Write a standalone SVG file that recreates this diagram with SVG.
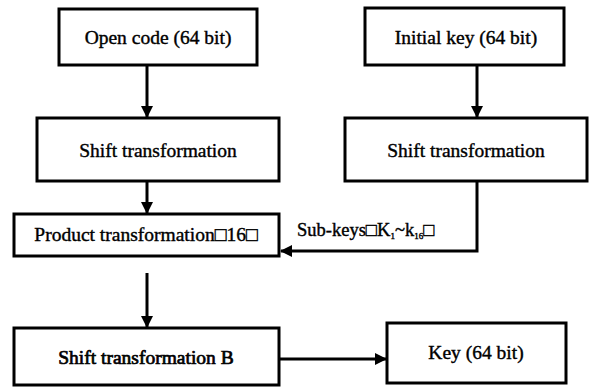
<svg xmlns="http://www.w3.org/2000/svg" width="589" height="387" viewBox="0 0 589 387">
<style>
.box{fill:#fff;stroke:#000;stroke-width:3}
.t{font-family:"Liberation Serif","Times New Roman",serif;font-size:19.5px;fill:#000;text-anchor:middle;dominant-baseline:central;stroke:#000;stroke-width:0.4}
.lbl{font-family:"Liberation Serif","Times New Roman",serif;font-size:18.5px;fill:#000;stroke:#000;stroke-width:0.4}
.c{fill:none;stroke:#000;stroke-width:3}
</style>
<defs>
<marker id="ah" markerWidth="12" markerHeight="12" refX="11" refY="6" orient="auto" markerUnits="userSpaceOnUse">
<path d="M0,0 L12,6 L0,12 Z" fill="#000"/>
</marker>
</defs>
<rect width="589" height="387" fill="#fff"/>
<g id="connectors">
<line class="c" x1="147" y1="65" x2="147" y2="117" marker-end="url(#ah)"/>
<line class="c" x1="477" y1="65" x2="477" y2="117" marker-end="url(#ah)"/>
<line class="c" x1="147" y1="181" x2="147" y2="213" marker-end="url(#ah)"/>
<polyline class="c" points="477,181 477,251 281,251" marker-end="url(#ah)"/>
<line class="c" x1="147" y1="273" x2="147" y2="327" marker-end="url(#ah)"/>
<line class="c" x1="279" y1="359" x2="386" y2="359" marker-end="url(#ah)"/>
<text class="lbl" x="297" y="236">Sub-keys□K<tspan font-size="9" dy="3">1</tspan><tspan dy="-3">~k</tspan><tspan font-size="9" dy="3">16</tspan><tspan dy="-3">□</tspan></text>
</g>
<g id="open-code">
<rect class="box" x="59" y="9" width="198" height="56"/>
<text class="t" x="158" y="37">Open code (64 bit)</text>
</g>
<g id="initial-key">
<rect class="box" x="365" y="8" width="199" height="57"/>
<text class="t" x="466" y="37">Initial key (64 bit)</text>
</g>
<g id="shift-left">
<rect class="box" x="37" y="118" width="242" height="63"/>
<text class="t" x="158" y="150">Shift transformation</text>
</g>
<g id="shift-right">
<rect class="box" x="345" y="118" width="242" height="63"/>
<text class="t" x="466" y="150">Shift transformation</text>
</g>
<g id="product">
<rect class="box" x="14" y="214" width="265" height="42"/>
<text class="t" x="146" y="234">Product transformation□16□</text>
</g>
<g id="shift-b">
<rect class="box" x="14" y="328" width="265" height="57"/>
<text class="t" x="146" y="357" style="stroke-width:0.7">Shift transformation B</text>
</g>
<g id="key">
<rect class="box" x="387" y="323" width="179" height="60"/>
<text class="t" x="476" y="352">Key (64 bit)</text>
</g>
</svg>
